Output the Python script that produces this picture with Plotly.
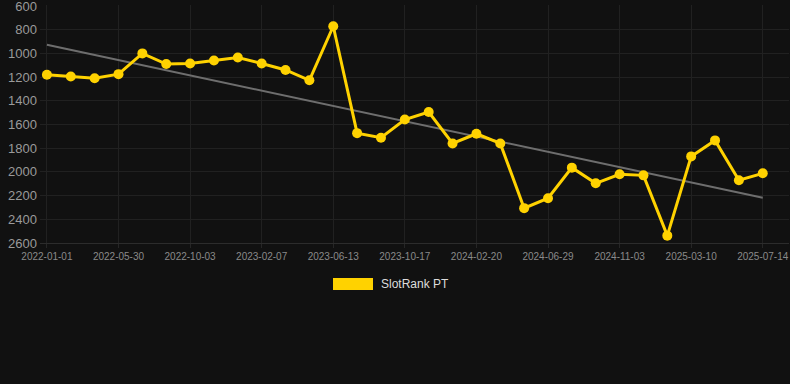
import numpy as np
import plotly.graph_objects as go

dates = [
    "2022-01-01", "2022-02-20", "2022-04-10",
    "2022-05-30", "2022-07-11", "2022-08-22",
    "2022-10-03", "2022-11-14", "2022-12-27",
    "2023-02-07", "2023-03-21", "2023-05-02",
    "2023-06-13", "2023-07-25", "2023-09-05",
    "2023-10-17", "2023-11-28", "2024-01-09",
    "2024-02-20", "2024-04-02", "2024-05-16",
    "2024-06-29", "2024-08-10", "2024-09-22",
    "2024-11-03", "2024-12-15", "2025-01-27",
    "2025-03-10", "2025-04-21", "2025-06-02",
    "2025-07-14",
]
rank = [
    1180, 1195, 1210, 1175, 1000, 1090, 1085, 1060, 1035, 1085, 1140,
    1227, 771, 1673, 1712, 1558, 1495, 1760, 1678, 1760, 2306, 2222,
    1964, 2096, 2020, 2029, 2538, 1869, 1734, 2071, 2012,
]
tick_labels = dates[::3]
y_ticks = [600, 800, 1000, 1200, 1400, 1600, 1800, 2000, 2200, 2400, 2600]
series_name = "SlotRank PT"

idx = np.arange(len(rank))
slope, intercept = np.polyfit(idx, rank, 1)
trend = slope * idx + intercept

BG = "#111111"
GOLD = "#FFD200"
GRID = "#212121"
FONT = "Liberation Sans, Arial, sans-serif"

L, R, T, B = 40, 1, 5, 141
PW, PH = 790 - L - R, 384 - T - B

fig = go.Figure()
fig.add_trace(go.Scatter(
    x=dates, y=trend, mode="lines",
    line=dict(color="#6e6e6e", width=2),
    showlegend=False, hoverinfo="skip",
))
fig.add_trace(go.Scatter(
    x=dates, y=rank, mode="lines+markers", name=series_name,
    line=dict(color=GOLD, width=3),
    marker=dict(color=GOLD, size=10),
    showlegend=False,
))

fig.update_layout(
    width=790, height=384,
    paper_bgcolor=BG, plot_bgcolor=BG,
    margin=dict(l=L, r=R, t=T, b=B, autoexpand=False),
    font=dict(family=FONT),
    showlegend=False,
    xaxis=dict(
        type="category",
        range=[-0.29, 31.1],
        tickmode="array", tickvals=tick_labels, ticktext=tick_labels,
        tickfont=dict(size=10, color="#8a8a8a"),
        showgrid=True, gridcolor=GRID, gridwidth=1,
        zeroline=False, showline=True, linecolor="#2c2c2c", linewidth=1,
        ticks="outside", ticklen=4, tickcolor="#262626",
    ),
    yaxis=dict(
        range=[2600, 2600 - PH * 2000 / 237],
        tickmode="array", tickvals=y_ticks,
        tickfont=dict(size=13, color="#9a9a9a"),
        showgrid=True, gridcolor=GRID, gridwidth=1,
        zeroline=False, showline=False,
        ticks="", ticklabelstandoff=2,
        ticklabeloverflow="allow",
    ),
    shapes=[dict(
        type="rect", xref="paper", yref="paper",
        x0=(333 - L) / PW, x1=(373 - L) / PW,
        y0=(384 - B - 290) / PH, y1=(384 - B - 278) / PH,
        fillcolor=GOLD, line=dict(width=0),
    )],
    annotations=[dict(
        text=series_name, xref="paper", yref="paper",
        x=(379 - L) / PW, y=(384 - B - 284) / PH,
        xanchor="left", yanchor="middle", showarrow=False,
        font=dict(size=12, color="#dddddd", family=FONT),
    )],
)

fig.write_html("out.html", config={"displayModeBar": False})

with open("out.html", "r", encoding="utf-8") as f:
    html = f.read()
html = html.replace(
    "<head>",
    "<head><style>html,body{margin:0;padding:0;background:#111111;overflow:hidden;}</style>",
    1,
)
with open("out.html", "w", encoding="utf-8") as f:
    f.write(html)
